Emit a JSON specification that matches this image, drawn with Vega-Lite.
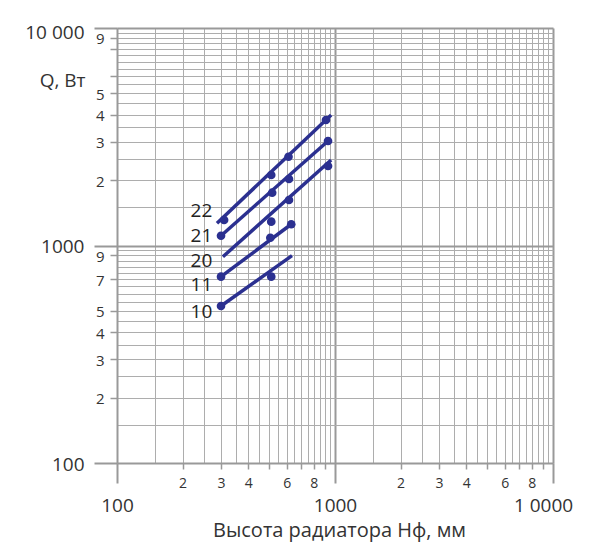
{
  "$schema": "https://vega.github.io/schema/vega-lite/v6.json",
  "autosize": {"type": "none"},
  "padding": {"left": 117, "top": 28, "right": 41, "bottom": 83},
  "width": 436,
  "height": 435,
  "background": "white",
  "config": {"view": {"stroke": null}, "font": "Open Sans"},
  "datasets": {
    "lines": [
      {"series": "22", "h": 287.5, "q": 1265},
      {"series": "22", "h": 960, "q": 3981},
      {"series": "21", "h": 300, "q": 1109},
      {"series": "21", "h": 929, "q": 3023},
      {"series": "20", "h": 306, "q": 888},
      {"series": "20", "h": 960, "q": 2472},
      {"series": "11", "h": 300, "q": 719},
      {"series": "11", "h": 630, "q": 1252},
      {"series": "10", "h": 300, "q": 527},
      {"series": "10", "h": 635, "q": 898}
    ],
    "points": [
      {"series": "22", "h": 310, "q": 1310},
      {"series": "22", "h": 510, "q": 2110},
      {"series": "22", "h": 612, "q": 2560},
      {"series": "22", "h": 909, "q": 3776},
      {"series": "21", "h": 300, "q": 1109},
      {"series": "21", "h": 515, "q": 1749},
      {"series": "21", "h": 615, "q": 2022},
      {"series": "21", "h": 929, "q": 3023},
      {"series": "20", "h": 510, "q": 1287},
      {"series": "20", "h": 615, "q": 1619},
      {"series": "20", "h": 929, "q": 2320},
      {"series": "11", "h": 300, "q": 719},
      {"series": "11", "h": 505, "q": 1086},
      {"series": "11", "h": 630, "q": 1252},
      {"series": "10", "h": 300, "q": 527},
      {"series": "10", "h": 510, "q": 719}
    ],
    "labels": [
      {"series": "22", "h": 273.6, "q": 1441},
      {"series": "21", "h": 273.6, "q": 1106},
      {"series": "20", "h": 273.6, "q": 848},
      {"series": "11", "h": 273.6, "q": 658},
      {"series": "10", "h": 273.6, "q": 495}
    ]
  },
  "layer": [
    {
      "data": {"name": "lines"},
      "mark": {"type": "line", "color": "#2B3090", "strokeWidth": 3.5, "strokeCap": "butt"},
      "encoding": {
        "x": {
          "field": "h", "type": "quantitative",
          "scale": {"type": "log", "domain": [100, 10000], "nice": false},
          "axis": {
            "values": [100,150,200,250,300,350,400,450,500,550,600,650,700,750,800,850,900,950,1000,1500,2000,2500,3000,3500,4000,4500,5000,5500,6000,6500,7000,7500,8000,8500,9000,9500,10000],
            "grid": true,
            "gridColor": {"condition": {"test": "datum.value == 1000 || datum.value == 10000", "value": "#999999"}, "value": "#adadad"},
            "gridWidth": {"condition": {"test": "datum.value == 1000 || datum.value == 10000", "value": 2}, "value": 1},
            "domainColor": "#999999",
            "domainWidth": 2,
            "tickColor": "#999999",
            "tickWidth": {"condition": {"test": "datum.value == 100 || datum.value == 1000 || datum.value == 10000", "value": 2}, "value": 1.5},
            "tickSize": {"condition": [
              {"test": "datum.value == 100 || datum.value == 1000 || datum.value == 10000", "value": 20},
              {"test": "indexof([200,300,400,500,600,700,800,900,2000,3000,4000,5000,6000,7000,8000,9000], datum.value) >= 0", "value": 6}
            ], "value": 0},
            "labelExpr": "datum.value == 100 ? '100' : datum.value == 1000 ? '1000' : datum.value == 10000 ? '1 0000' : indexof([200,300,400,600,800,2000,3000,4000,6000,8000], datum.value) >= 0 ? format(datum.value < 1000 ? datum.value / 100 : datum.value / 1000, 'd') : ''",
            "labelFontSize": {"condition": {"test": "datum.value == 100 || datum.value == 1000 || datum.value == 10000", "value": 19}, "value": 14},
            "labelPadding": {"condition": {"test": "datum.value == 100 || datum.value == 1000 || datum.value == 10000", "value": 13}, "value": 7},
            "labelOffset": {"condition": {"test": "datum.value == 10000", "value": -10}, "value": 0},
            "labelColor": "#333333",
            "labelOverlap": false,
            "labelFlush": false,
            "labelBound": false,
            "title": "Высота радиатора Hф, мм",
            "titleFontSize": 20,
            "titleFontWeight": "normal",
            "titleColor": "#333333",
            "titleBaseline": "alphabetic",
            "titleY": 73,
            "titleX": 222
          }
        },
        "y": {
          "field": "q", "type": "quantitative",
          "scale": {"type": "log", "domain": [100, 10000], "nice": false},
          "axis": {
            "values": [100,150,200,250,300,350,400,450,500,550,600,650,700,750,800,850,900,950,1000,1500,2000,2500,3000,3500,4000,4500,5000,5500,6000,6500,7000,7500,8000,8500,9000,9500,10000],
            "grid": true,
            "gridColor": {"condition": {"test": "datum.value == 1000 || datum.value == 10000", "value": "#999999"}, "value": "#adadad"},
            "gridWidth": {"condition": {"test": "datum.value == 1000 || datum.value == 10000", "value": 2}, "value": 1},
            "domainColor": "#999999",
            "domainWidth": 2,
            "tickColor": "#999999",
            "tickWidth": {"condition": {"test": "datum.value == 100 || datum.value == 1000 || datum.value == 10000", "value": 2}, "value": 1.5},
            "tickSize": {"condition": [
              {"test": "datum.value == 100 || datum.value == 1000 || datum.value == 10000", "value": 23},
              {"test": "indexof([200,300,400,500,700,900,2000,3000,4000,5000,6000,8000,9000], datum.value) >= 0", "value": 7}
            ], "value": 0},
            "labelExpr": "datum.value == 100 ? '100' : datum.value == 1000 ? '1000' : datum.value == 10000 ? '10 000' : indexof([200,300,400,500,700,900,2000,3000,4000,5000,9000], datum.value) >= 0 ? format(datum.value < 1000 ? datum.value / 100 : datum.value / 1000, 'd') : ''",
            "labelFontSize": {"condition": {"test": "datum.value == 100 || datum.value == 1000 || datum.value == 10000", "value": 19}, "value": 15},
            "labelPadding": {"condition": {"test": "datum.value == 100 || datum.value == 1000 || datum.value == 10000", "value": 10}, "value": 6},
            "labelOffset": {"condition": {"test": "datum.value == 10000", "value": 4}, "value": 1},
            "labelColor": "#333333",
            "labelOverlap": false,
            "labelFlush": false,
            "labelBound": false,
            "title": "Q, Вт",
            "titleAngle": 0,
            "titleAlign": "right",
            "titleBaseline": "alphabetic",
            "titleX": -32,
            "titleY": 58,
            "titleFontSize": 19,
            "titleFontWeight": "normal",
            "titleColor": "#333333"
          }
        },
        "detail": {"field": "series"}
      }
    },
    {
      "data": {"name": "points"},
      "mark": {"type": "circle", "color": "#2B3090", "size": 75, "opacity": 1},
      "encoding": {
        "x": {"field": "h", "type": "quantitative"},
        "y": {"field": "q", "type": "quantitative"}
      }
    },
    {
      "data": {"name": "labels"},
      "mark": {"type": "text", "align": "right", "baseline": "middle", "fontSize": 19, "color": "#222222"},
      "encoding": {
        "x": {"field": "h", "type": "quantitative"},
        "y": {"field": "q", "type": "quantitative"},
        "text": {"field": "series"}
      }
    }
  ]
}
